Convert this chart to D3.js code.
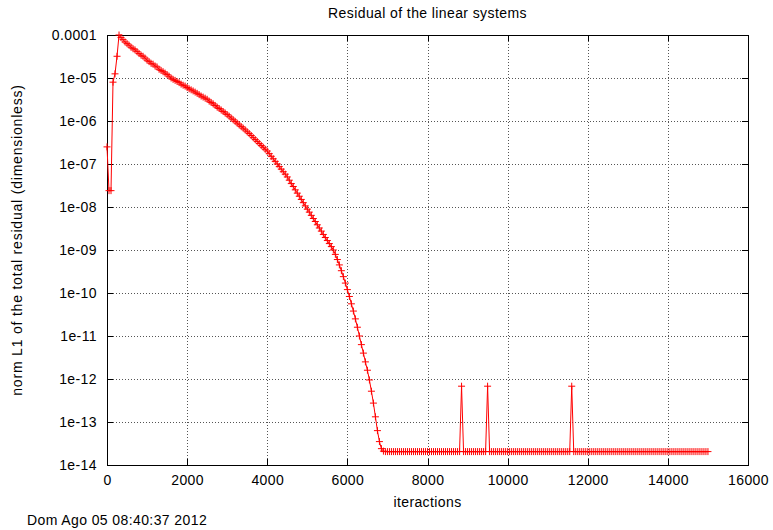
<!DOCTYPE html>
<html>
<head>
<meta charset="utf-8">
<script src="https://cdn.jsdelivr.net/npm/d3@7"></script>
<style>
  html, body { margin: 0; padding: 0; background: #fff; }
  svg text { font-family: "Liberation Sans", Arial, Helvetica, sans-serif; font-size: 14px; letter-spacing: 0.4px; fill: #000; }
</style>
</head>
<body>
<div id="chart"></div>
<script>
// Residual samples, one every STEP iterations starting at iteration 0
const STEP = 50;

// start-up and descent, iterations 0 .. 6950
const descent = [
    2.5e-7, 2.4e-8, 2.4e-8, 8.0e-6, 1.25e-5, 3.2e-5, 1.0e-4, 8.7e-5, 7.8e-5, 6.9e-5,
    6.3e-5, 5.8e-5, 5.2e-5, 4.8e-5, 4.5e-5, 4.1e-5, 3.7e-5, 3.4e-5, 3.2e-5, 2.9e-5,
    2.6e-5, 2.4e-5, 2.2e-5, 2.1e-5, 1.9e-5, 1.8e-5, 1.6e-5, 1.5e-5, 1.4e-5, 1.3e-5,
    1.2e-5, 1.1e-5, 1.0e-5, 9.3e-6, 8.8e-6, 8.3e-6, 7.8e-6, 7.2e-6, 6.8e-6, 6.5e-6,
    6.0e-6, 5.6e-6, 5.3e-6, 5.0e-6, 4.7e-6, 4.4e-6, 4.1e-6, 3.8e-6, 3.6e-6, 3.4e-6,
    3.2e-6, 2.9e-6, 2.7e-6, 2.5e-6, 2.3e-6, 2.1e-6, 1.95e-6, 1.8e-6, 1.66e-6, 1.53e-6,
    1.41e-6, 1.29e-6, 1.17e-6, 1.07e-6, 9.8e-7, 8.9e-7, 8.1e-7, 7.4e-7, 6.8e-7, 6.2e-7,
    5.6e-7, 5.1e-7, 4.6e-7, 4.1e-7, 3.7e-7, 3.35e-7, 3.0e-7, 2.7e-7, 2.45e-7, 2.2e-7,
    2.0e-7, 1.74e-7, 1.51e-7, 1.32e-7, 1.15e-7, 1.0e-7, 8.7e-8, 7.6e-8, 6.6e-8, 5.8e-8,
    5.0e-8, 4.2e-8, 3.5e-8, 3.0e-8, 2.5e-8, 2.1e-8, 1.78e-8, 1.5e-8, 1.26e-8, 1.06e-8,
    8.9e-9, 7.6e-9, 6.4e-9, 5.4e-9, 4.6e-9, 3.85e-9, 3.25e-9, 2.75e-9, 2.3e-9, 1.95e-9,
    1.66e-9, 1.41e-9, 1.2e-9, 1.0e-9, 7.9e-10, 6.0e-10, 4.5e-10, 3.3e-10, 2.4e-10, 1.7e-10,
    1.2e-10, 8.3e-11, 5.6e-11, 3.8e-11, 2.5e-11, 1.6e-11, 1.0e-11, 6.3e-12, 4.0e-12, 2.5e-12,
    1.6e-12, 9.5e-13, 5.2e-13, 2.75e-13, 1.32e-13, 6.3e-14, 3.5e-14, 2.4e-14, 2.1e-14, 2.05e-14
];

// plateau, iterations 7000 .. 15000 (three spikes at 8850, 9500, 11600)
const plateau = [
    2.05e-14, 2.05e-14, 2.05e-14, 2.05e-14, 2.05e-14, 2.05e-14, 2.05e-14, 2.05e-14, 2.05e-14, 2.05e-14, // 7000
    2.05e-14, 2.05e-14, 2.05e-14, 2.05e-14, 2.05e-14, 2.05e-14, 2.05e-14, 2.05e-14, 2.05e-14, 2.05e-14, // 7500
    2.05e-14, 2.05e-14, 2.05e-14, 2.05e-14, 2.05e-14, 2.05e-14, 2.05e-14, 2.05e-14, 2.05e-14, 2.05e-14, // 8000
    2.05e-14, 2.05e-14, 2.05e-14, 2.05e-14, 2.05e-14, 2.05e-14, 2.05e-14, 6.8e-13, 2.05e-14, 2.05e-14, // 8500
    2.05e-14, 2.05e-14, 2.05e-14, 2.05e-14, 2.05e-14, 2.05e-14, 2.05e-14, 2.05e-14, 2.05e-14, 2.05e-14, // 9000
    6.8e-13, 2.05e-14, 2.05e-14, 2.05e-14, 2.05e-14, 2.05e-14, 2.05e-14, 2.05e-14, 2.05e-14, 2.05e-14, // 9500
    2.05e-14, 2.05e-14, 2.05e-14, 2.05e-14, 2.05e-14, 2.05e-14, 2.05e-14, 2.05e-14, 2.05e-14, 2.05e-14, // 10000
    2.05e-14, 2.05e-14, 2.05e-14, 2.05e-14, 2.05e-14, 2.05e-14, 2.05e-14, 2.05e-14, 2.05e-14, 2.05e-14, // 10500
    2.05e-14, 2.05e-14, 2.05e-14, 2.05e-14, 2.05e-14, 2.05e-14, 2.05e-14, 2.05e-14, 2.05e-14, 2.05e-14, // 11000
    2.05e-14, 2.05e-14, 6.8e-13, 2.05e-14, 2.05e-14, 2.05e-14, 2.05e-14, 2.05e-14, 2.05e-14, 2.05e-14, // 11500
    2.05e-14, 2.05e-14, 2.05e-14, 2.05e-14, 2.05e-14, 2.05e-14, 2.05e-14, 2.05e-14, 2.05e-14, 2.05e-14, // 12000
    2.05e-14, 2.05e-14, 2.05e-14, 2.05e-14, 2.05e-14, 2.05e-14, 2.05e-14, 2.05e-14, 2.05e-14, 2.05e-14, // 12500
    2.05e-14, 2.05e-14, 2.05e-14, 2.05e-14, 2.05e-14, 2.05e-14, 2.05e-14, 2.05e-14, 2.05e-14, 2.05e-14, // 13000
    2.05e-14, 2.05e-14, 2.05e-14, 2.05e-14, 2.05e-14, 2.05e-14, 2.05e-14, 2.05e-14, 2.05e-14, 2.05e-14, // 13500
    2.05e-14, 2.05e-14, 2.05e-14, 2.05e-14, 2.05e-14, 2.05e-14, 2.05e-14, 2.05e-14, 2.05e-14, 2.05e-14, // 14000
    2.05e-14, 2.05e-14, 2.05e-14, 2.05e-14, 2.05e-14, 2.05e-14, 2.05e-14, 2.05e-14, 2.05e-14, 2.05e-14, // 14500
    2.05e-14                                                                                            // 15000
];

const xTicks = [0, 2000, 4000, 6000, 8000, 10000, 12000, 14000, 16000];
const yTicks = [1e-14, 1e-13, 1e-12, 1e-11, 1e-10, 1e-9, 1e-8, 1e-7, 1e-6, 1e-5, 1e-4];
const yTickLabels = ["1e-14", "1e-13", "1e-12", "1e-11", "1e-10", "1e-09", "1e-08", "1e-07", "1e-06", "1e-05", "0.0001"];

const titleText = "Residual of the linear systems";
const xLabel = "iteractions";
const yLabel = "norm L1 of the total residual (dimensionless)";
const stamp = "Dom Ago 05 08:40:37 2012";

const W = 773, H = 530;
const margin = { top: 35, right: 25, bottom: 65, left: 107 };

const data = descent.concat(plateau).map((r, i) => ({ it: i * STEP, r }));

const svg = d3.select("#chart").append("svg")
    .attr("width", W)
    .attr("height", H);

const x = d3.scaleLinear()
    .domain([0, 16000])
    .range([margin.left, W - margin.right]);

const y = d3.scaleLog()
    .domain([1e-14, 1e-4])
    .range([H - margin.bottom, margin.top]);

const x0 = margin.left, x1 = W - margin.right;
const y0 = H - margin.bottom, y1 = margin.top;

// grid
const grid = svg.append("g")
    .attr("stroke", "#555")
    .attr("stroke-width", 1)
    .attr("stroke-dasharray", "1,2")
    .attr("shape-rendering", "crispEdges");

grid.selectAll(".gx")
    .data(xTicks.slice(1, -1))
    .enter().append("line")
    .attr("x1", d => Math.round(x(d)) + 0.5).attr("x2", d => Math.round(x(d)) + 0.5)
    .attr("y1", y1).attr("y2", y0);

grid.selectAll(".gy")
    .data(yTicks.slice(1, -1))
    .enter().append("line")
    .attr("y1", d => Math.round(y(d)) + 0.5).attr("y2", d => Math.round(y(d)) + 0.5)
    .attr("x1", x0).attr("x2", x1);

// axes (gnuplot style: ticks pointing in, on all four sides)
const tickLen = 6;

svg.append("g")
    .attr("transform", `translate(0,${y0})`)
    .call(d3.axisBottom(x).tickValues(xTicks).tickFormat(d3.format("d"))
        .tickSizeInner(-tickLen).tickSizeOuter(0).tickPadding(10));

svg.append("g")
    .attr("transform", `translate(0,${y1})`)
    .call(d3.axisTop(x).tickValues(xTicks).tickFormat("")
        .tickSizeInner(-tickLen).tickSizeOuter(0));

svg.append("g")
    .attr("transform", `translate(${x0},0)`)
    .call(d3.axisLeft(y).tickValues(yTicks).tickFormat((d, i) => yTickLabels[i])
        .tickSizeInner(-tickLen).tickSizeOuter(0).tickPadding(10));

svg.append("g")
    .attr("transform", `translate(${x1},0)`)
    .call(d3.axisRight(y).tickValues(yTicks).tickFormat("")
        .tickSizeInner(-tickLen).tickSizeOuter(0));

svg.selectAll(".domain").remove();
svg.selectAll(".tick line").attr("stroke", "#000").attr("shape-rendering", "crispEdges");
svg.selectAll(".tick text")
    .style("font-family", '"Liberation Sans", Arial, Helvetica, sans-serif')
    .style("font-size", "14px")
    .attr("fill", "#000");

// frame
svg.append("rect")
    .attr("x", x0 + 0.5).attr("y", y1 + 0.5)
    .attr("width", x1 - x0).attr("height", y0 - y1)
    .attr("fill", "none")
    .attr("stroke", "#000")
    .attr("stroke-width", 1.2)
    .attr("shape-rendering", "crispEdges");

// series: line + '+' markers
const line = d3.line()
    .x(d => x(d.it))
    .y(d => y(d.r));

svg.append("path")
    .datum(data)
    .attr("fill", "none")
    .attr("stroke", "#ff0000")
    .attr("stroke-width", 1)
    .attr("d", line);

const ms = 3.5;
svg.append("path")
    .attr("fill", "none")
    .attr("stroke", "#ff0000")
    .attr("stroke-width", 1)
    .attr("d", data.map(d => {
        const px = x(d.it), py = y(d.r);
        return `M${px - ms},${py}H${px + ms}M${px},${py - ms}V${py + ms}`;
    }).join(""));

// texts
svg.append("text")
    .attr("x", (x0 + x1) / 2)
    .attr("y", 18)
    .attr("text-anchor", "middle")
    .text(titleText);

svg.append("text")
    .attr("x", (x0 + x1) / 2)
    .attr("y", 507)
    .attr("text-anchor", "middle")
    .text(xLabel);

svg.append("text")
    .attr("transform", `translate(22,${(y0 + y1) / 2 - 10}) rotate(-90)`)
    .attr("text-anchor", "middle")
    .style("letter-spacing", "0.8px")
    .text(yLabel);

svg.append("text")
    .attr("x", 27)
    .attr("y", 525)
    .text(stamp);
</script>
</body>
</html>
